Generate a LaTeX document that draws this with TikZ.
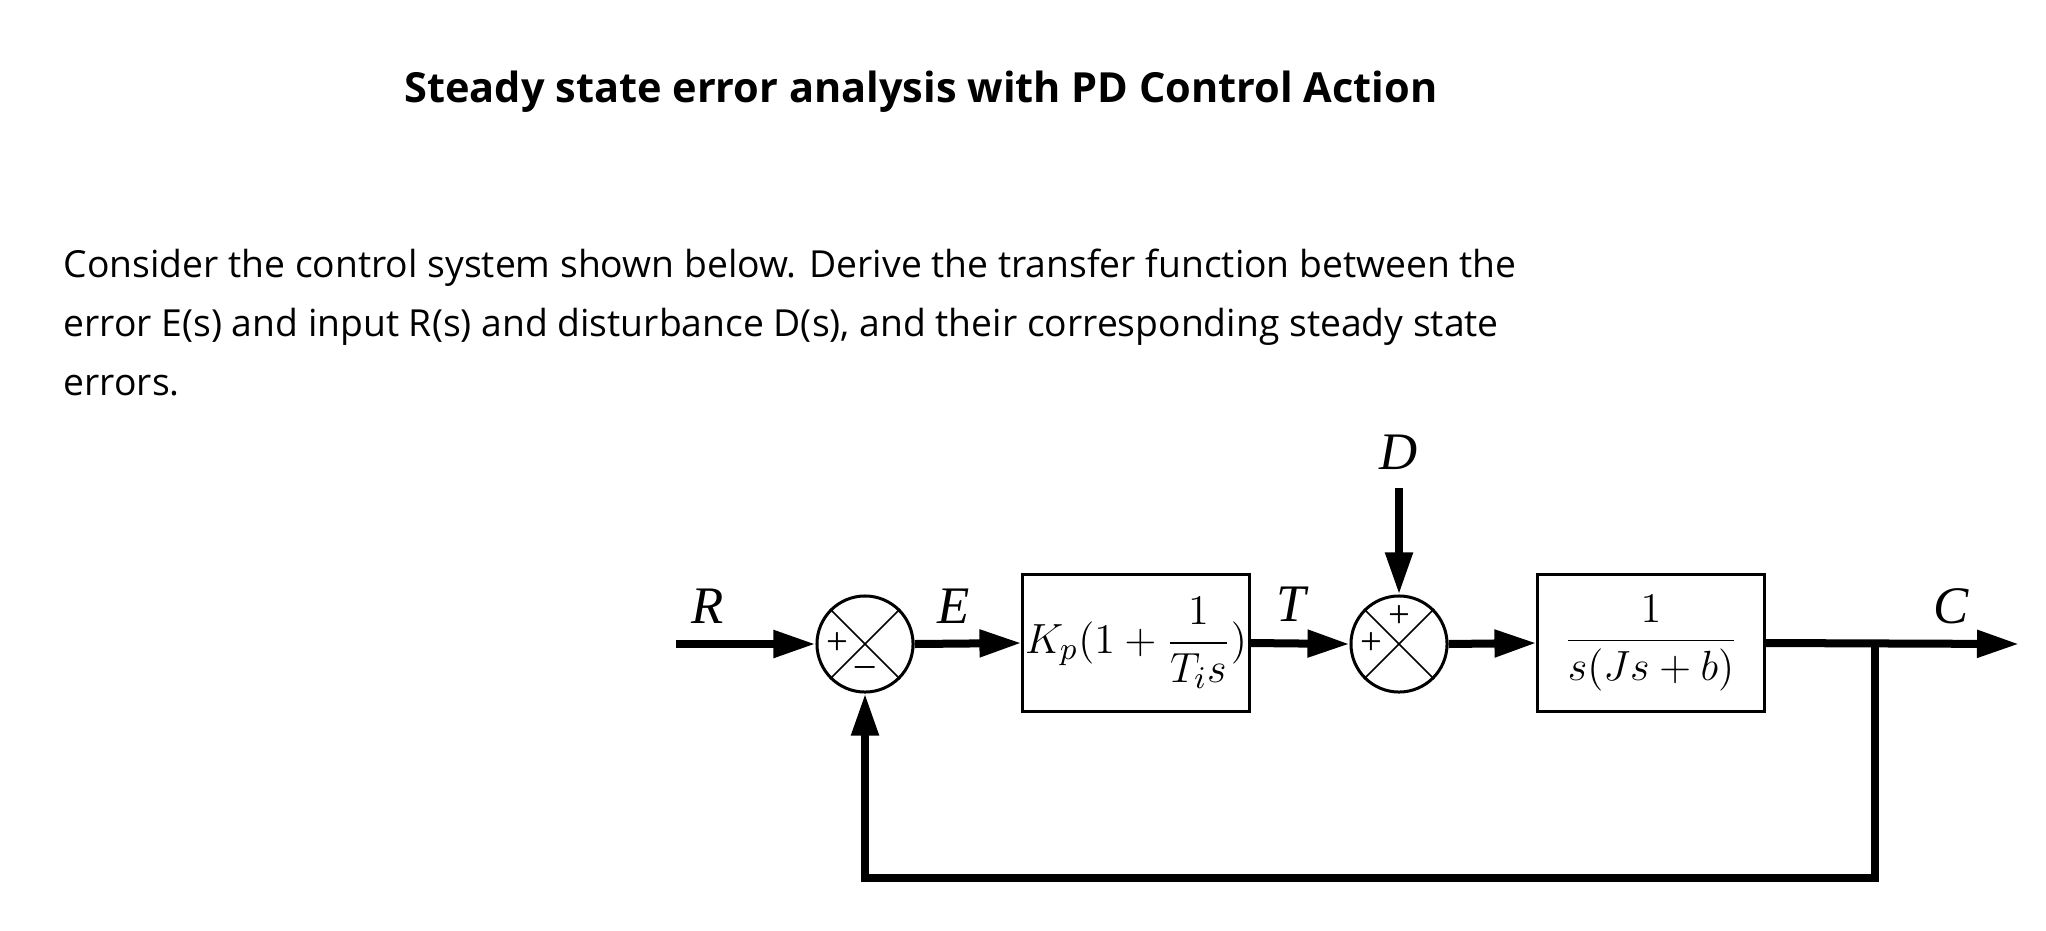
\documentclass[tikz,border=0pt]{standalone}
\usepackage{amsmath}
\usepackage{fontspec}
\setmainfont{Liberation Serif}
\newfontfamily\txt{Open Sans}
\usetikzlibrary{arrows.meta}
\begin{document}
\begin{tikzpicture}[x=0.01cm,y=-0.01cm,
  sig/.style={line width=0.08cm,-{Triangle[length=0.42cm,width=0.26cm]}},
  blk/.style={draw,line width=0.03cm,minimum width=2.26cm,minimum height=1.36cm,inner sep=0pt,font=\fontsize{13}{14}\selectfont},
  sumc/.style={draw,circle,line width=0.03cm,minimum size=0.96cm,inner sep=0pt},
  lab/.style={font=\fontsize{15}{16}\selectfont\itshape},
  pm/.style={font=\fontsize{11}{12}\selectfont,inner sep=0pt}]
\useasboundingbox (0,0) rectangle (2046,930);
\node[font=\txt\bfseries\fontsize{11.8}{14}\selectfont] (title) at (921,92) {Steady state error analysis with PD Control Action};
\node[font=\txt\fontsize{10.6}{16.8}\selectfont,anchor=north west,align=left,inner sep=0pt] (para) at (63,248)
 {Consider the control system shown below. Derive the transfer function between the\\error E(s) and input R(s) and disturbance D(s), and their corresponding steady state\\errors.};
\coordinate (rin) at (676,644);
\node[sumc] (s1) at (865,644) {};
\draw[line width=0.015cm] (s1.45)--(s1.225) (s1.135)--(s1.315);
\node[pm] at ([xshift=-0.28cm]s1.center) {+};
\node[pm] at ([yshift=-0.27cm]s1.center) {\textendash};
\node[blk] (b1) at (1136,643) {$K_p(1+\dfrac{1}{T_is})$};
\node[sumc] (s2) at (1399,644) {};
\draw[line width=0.015cm] (s2.45)--(s2.225) (s2.135)--(s2.315);
\node[pm] at ([xshift=-0.28cm]s2.center) {+};
\node[pm] at ([yshift=0.27cm]s2.center) {+};
\node[blk] (b2) at (1651,643) {$\dfrac{1}{s(Js+b)}$};
\coordinate (cout) at (2019,644);
\coordinate (br) at (1875,644);
\coordinate (fb) at (1875,878);
\coordinate (fbl) at (865,878);
\coordinate (dtop) at (1399,488);
\draw[sig] (rin)--(s1.west);
\draw[sig] (s1.east)--(b1.west);
\draw[sig] (b1.east)--(s2.west);
\draw[sig] (s2.east)--(b2.west);
\draw[sig] (b2.east)--(cout);
\draw[sig] (dtop)--(s2.north);
\draw[sig] (br)--(fb)--(fbl)--(s1.south);
\node[lab] (lR) at (708,606) {R};
\node[lab] (lE) at (954,606) {E};
\node[lab] (lT) at (1291,604) {T};
\node[lab] (lC) at (1951,606) {C};
\node[lab] (lD) at (1399,452) {D};
\end{tikzpicture}
\end{document}
